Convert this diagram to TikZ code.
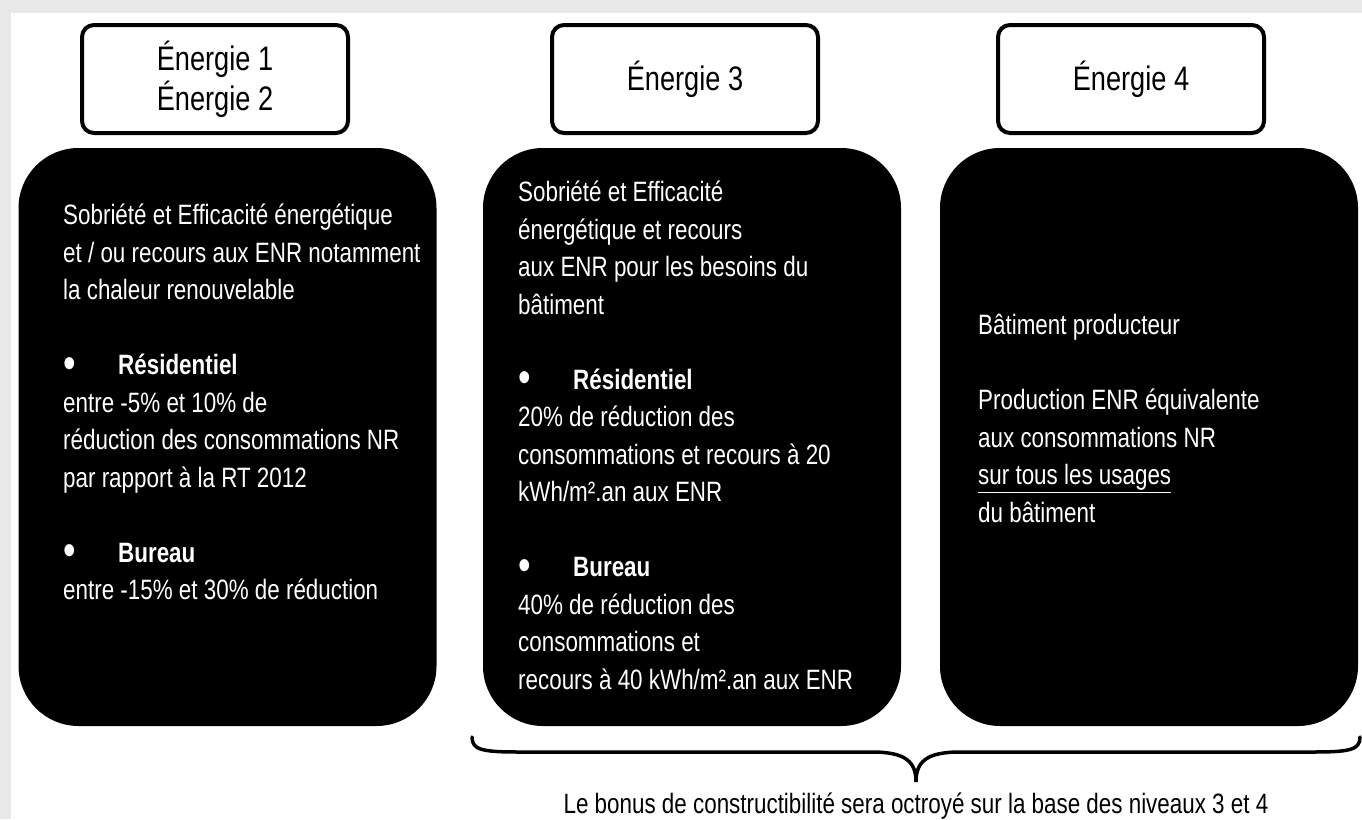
\documentclass[tikz,border=0pt]{standalone}
\usepackage{fontspec}
\usepackage{graphicx}
\setmainfont{Liberation Sans}[FakeStretch=0.8]
\usetikzlibrary{positioning}

\definecolor{pagegray}{HTML}{E8E8E8}
\newcommand{\bulletline}[1]{\makebox[55pt][l]{\raisebox{-0.12em}{\scalebox{1.6}{\textbullet}}}\textbf{#1}}

\begin{document}
\begin{tikzpicture}[x=1pt,y=-1pt,
  headbox/.style={rectangle,rounded corners=12pt,draw=black,line width=4pt,fill=white,minimum width=266pt,minimum height=108pt,align=center,font=\fontsize{34}{40}\selectfont},
  blackbox/.style={rectangle,rounded corners=60pt,fill=black,minimum width=418pt,minimum height=578pt},
  bodytext/.style={text=white,align=left,anchor=north west,inner sep=0pt,font=\fontsize{28}{37.5}\selectfont}]
		\useasboundingbox (0,0) rectangle (1362,819);
		\fill[pagegray] (0,0) rectangle (1362,819);
		\fill[white] (11,13) rectangle (1362,819);
		% header boxes
		\node[headbox] (level12) at (215,79) {Énergie 1\\Énergie 2};
		\node[headbox] (level3) at (685,79) {Énergie 3};
		\node[headbox] (level4) at (1131,79) {Énergie 4};
		% black boxes
		\node[blackbox] (box12) at (227.5,437) {};
		\node[blackbox] (box3) at (692,437) {};
		\node[blackbox] (box4) at (1149,437) {};
		\node[bodytext] (text12) at (63,204) {Sobriété et Efficacité énergétique\\
			et / ou recours aux ENR notamment\\
			la chaleur renouvelable\\[37.5pt]
			\bulletline{Résidentiel}\\
			entre -5\% et 10\% de\\
			réduction des consommations NR\\
			par rapport à la RT 2012\\[37.5pt]
			\bulletline{Bureau}\\
			entre -15\% et 30\% de réduction};
		\node[bodytext] (text3) at (518,181) {Sobriété et Efficacité\\
			énergétique et recours\\
			aux ENR pour les besoins du\\
			bâtiment\\[37.5pt]
			\bulletline{Résidentiel}\\
			20\% de réduction des\\
			consommations et recours à 20\\
			kWh/m².an aux ENR\\[37.5pt]
			\bulletline{Bureau}\\
			40\% de réduction des\\
			consommations et\\
			recours à 40 kWh/m².an aux ENR};
		\node[bodytext] (text4) at (978,314) {Bâtiment producteur\\[37.5pt]
			Production ENR équivalente\\
			aux consommations NR\\
			\underline{sur tous les usages}\\
			du bâtiment};
		% brace under levels 3 and 4
		\coordinate (braceL) at (472,737);
		\coordinate (braceTip) at (916,782);
		\coordinate (braceR) at (1360,737);
		\draw[line width=3.5pt,line cap=round] (braceL) .. controls (472,750) and (482,752) .. (520,752) -- (872,752) .. controls (906,752) and (916,762) .. (braceTip) .. controls (916,762) and (926,752) .. (960,752) -- (1312,752) .. controls (1350,752) and (1360,750) .. (braceR);
		\node[font=\fontsize{28}{30}\selectfont,anchor=base] (bonus) at (916,813) {Le bonus de constructibilité sera octroyé sur la base des niveaux 3 et 4};
	\end{tikzpicture}
\end{document}
